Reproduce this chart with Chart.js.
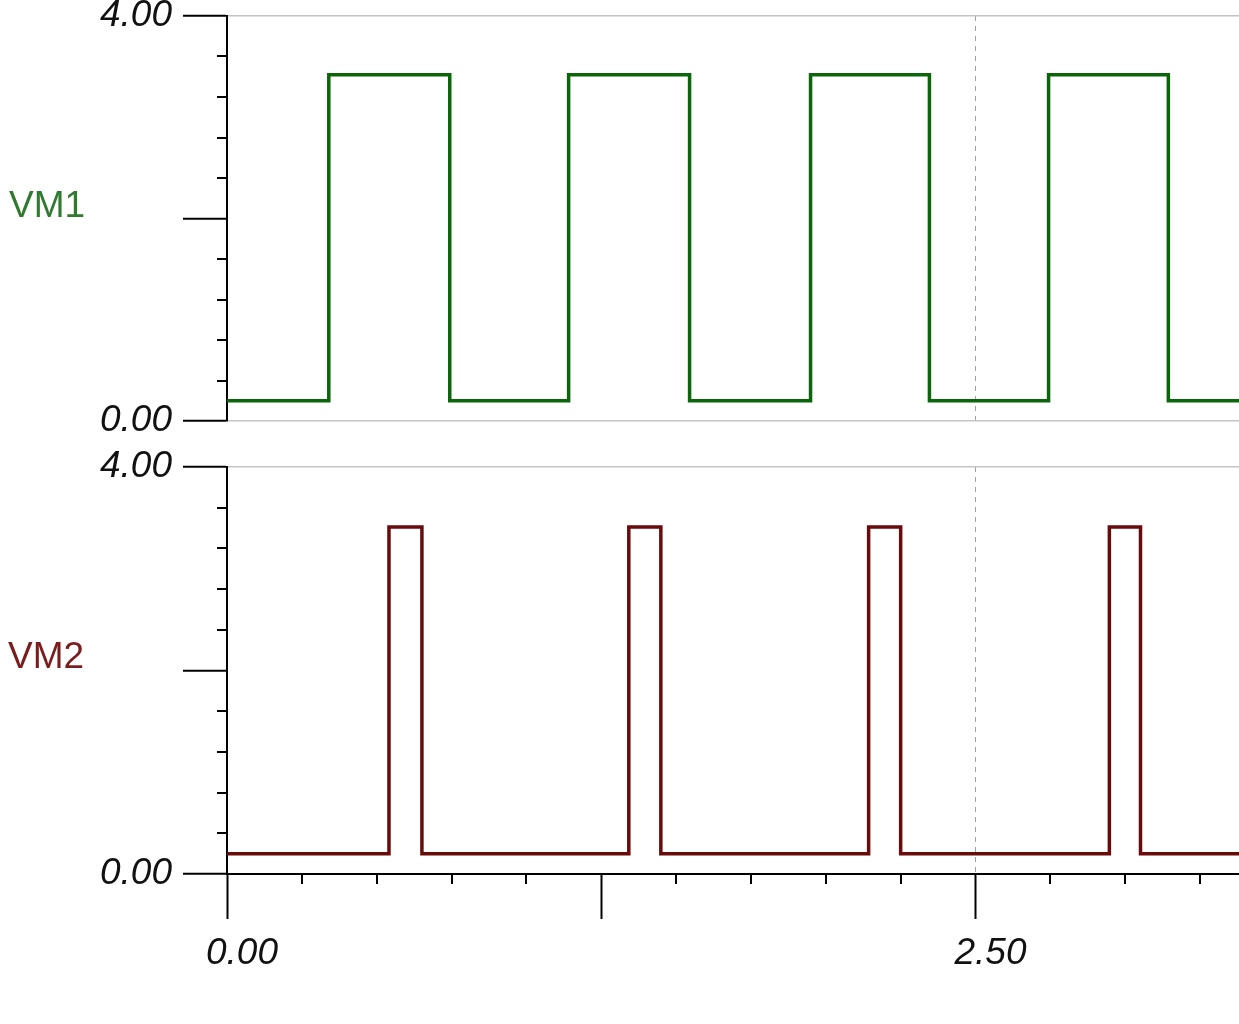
<!DOCTYPE html>
<html>
<head>
<meta charset="utf-8">
<script src="https://cdn.jsdelivr.net/npm/chart.js@4/dist/chart.umd.min.js"></script>
<style>
  html, body { margin: 0; padding: 0; background: #fff; }
  body { width: 1239px; height: 1024px; position: relative; overflow: hidden; }
  canvas { position: absolute; left: 0; }
  #c1 { top: 0; }
  #c2 { top: 445px; }
  .trace-name { position: absolute; font-family: "Liberation Sans", Arial, sans-serif; font-size: 37px; line-height: 36px; }
</style>
</head>
<body>
<canvas id="c1" width="1239" height="445"></canvas>
<canvas id="c2" width="1239" height="579"></canvas>
<div class="trace-name" style="left:9px;top:187px;color:#2f7a2f;">VM1</div>
<div class="trace-name" style="left:8px;top:638px;color:#7a1c1c;">VM2</div>
<script>
  // transition times (x) and the level reached at each one
  var vm1Times = [0, 0.340, 0.744, 1.141, 1.545, 1.949, 2.346, 2.744, 3.144, 3.38];
  var vm1Levels = [0.2, 3.42, 0.2, 3.42, 0.2, 3.42, 0.2, 3.42, 0.2, 0.2];
  var vm2Times = [0, 0.541, 0.651, 1.342, 1.449, 2.143, 2.250, 2.947, 3.051, 3.38];
  var vm2Levels = [0.2, 3.41, 0.2, 3.41, 0.2, 3.41, 0.2, 3.41, 0.2, 0.2];

  var xMin = 0, xMax = 3.38;
  var yMin = 0, yMax = 4;
  var yMajorTicks = [0, 2, 4];
  var yMinorTicks = [0.4, 0.8, 1.2, 1.6, 2.4, 2.8, 3.2, 3.6];
  var xMajorTicks = [0, 1.25, 2.5];
  var xMinorTicks = [0.25, 0.5, 0.75, 1, 1.5, 1.75, 2, 2.25, 2.75, 3, 3.25];
  var yLabelled = [0, 4];
  var xLabelled = [0, 2.5];
  var xGridAt = 2.5;

  var labelFont = { family: '"Liberation Sans", Arial, sans-serif', size: 37, style: 'italic' };

  function near(a, b) { return Math.abs(a - b) < 1e-6; }
  function inList(v, list) { return list.some(function (t) { return near(t, v); }); }

  function toPoints(times, levels) {
    return times.map(function (t, i) { return { x: t, y: levels[i] }; });
  }

  // short minor ticks, placed through the chart's own scales
  var minorTicks = {
    id: 'minorTicks',
    afterDraw: function (chart, args, opts) {
      var ctx = chart.ctx;
      var ys = chart.scales.y, xs = chart.scales.x;
      ctx.save();
      ctx.strokeStyle = '#000';
      ctx.lineWidth = 2;
      ctx.beginPath();
      yMinorTicks.forEach(function (v) {
        var p = Math.round(ys.getPixelForValue(v));
        ctx.moveTo(ys.right - 10, p);
        ctx.lineTo(ys.right, p);
      });
      if (opts.xTicks) {
        xMinorTicks.forEach(function (v) {
          var p = Math.round(xs.getPixelForValue(v));
          ctx.moveTo(p, xs.top);
          ctx.lineTo(p, xs.top + 10);
        });
      }
      ctx.stroke();
      ctx.restore();
    }
  };

  function makeChart(canvasId, times, levels, color, padTop, showX) {
    return new Chart(document.getElementById(canvasId), {
      type: 'line',
      data: {
        datasets: [{
          data: toPoints(times, levels),
          borderColor: color,
          borderWidth: 3.5,
          stepped: 'before',
          pointRadius: 0,
          fill: false
        }]
      },
      plugins: [minorTicks],
      options: {
        responsive: false,
        animation: false,
        layout: { padding: { top: padTop, left: 0, right: 0, bottom: 0 } },
        plugins: {
          legend: { display: false },
          tooltip: { enabled: false },
          minorTicks: { xTicks: showX }
        },
        scales: {
          x: {
            type: 'linear',
            min: xMin,
            max: xMax,
            afterBuildTicks: function (s) { s.ticks = xMajorTicks.map(function (v) { return { value: v }; }); },
            afterFit: function (s) { s.height = showX ? 150 : 24; s.paddingLeft = 0; s.paddingRight = 0; },
            border: { display: showX, color: '#000', width: 2, dash: [5, 5] },
            grid: {
              drawTicks: showX,
              tickLength: 45,
              tickWidth: 2,
              tickColor: '#000',
              tickBorderDash: [],
              lineWidth: 1,
              color: function (c) { return c.tick && near(c.tick.value, xGridAt) ? '#a0a0a0' : 'rgba(0,0,0,0)'; }
            },
            ticks: {
              display: showX,
              autoSkip: false,
              maxRotation: 0,
              padding: 13,
              labelOffset: 15,
              color: '#111',
              font: labelFont,
              callback: function (v) { return inList(v, xLabelled) ? v.toFixed(2) : ''; }
            }
          },
          y: {
            type: 'linear',
            min: yMin,
            max: yMax,
            afterBuildTicks: function (s) { s.ticks = yMajorTicks.map(function (v) { return { value: v }; }); },
            afterFit: function (s) { s.width = 227; s.paddingTop = 0; s.paddingBottom = 0; },
            border: { display: true, color: '#000', width: 2 },
            grid: {
              tickLength: 44,
              tickWidth: 2,
              tickColor: '#000',
              lineWidth: 1.5,
              color: function (c) { return c.tick && inList(c.tick.value, yLabelled) ? '#c4c4c4' : 'rgba(0,0,0,0)'; }
            },
            ticks: {
              autoSkip: false,
              padding: 11,
              color: '#111',
              font: labelFont,
              callback: function (v) { return inList(v, yLabelled) ? v.toFixed(2) : ''; }
            }
          }
        }
      }
    });
  }

  makeChart('c1', vm1Times, vm1Levels, '#0b650b', 16, false);
  makeChart('c2', vm2Times, vm2Levels, '#6a0b0b', 22, true);
</script>
</body>
</html>
